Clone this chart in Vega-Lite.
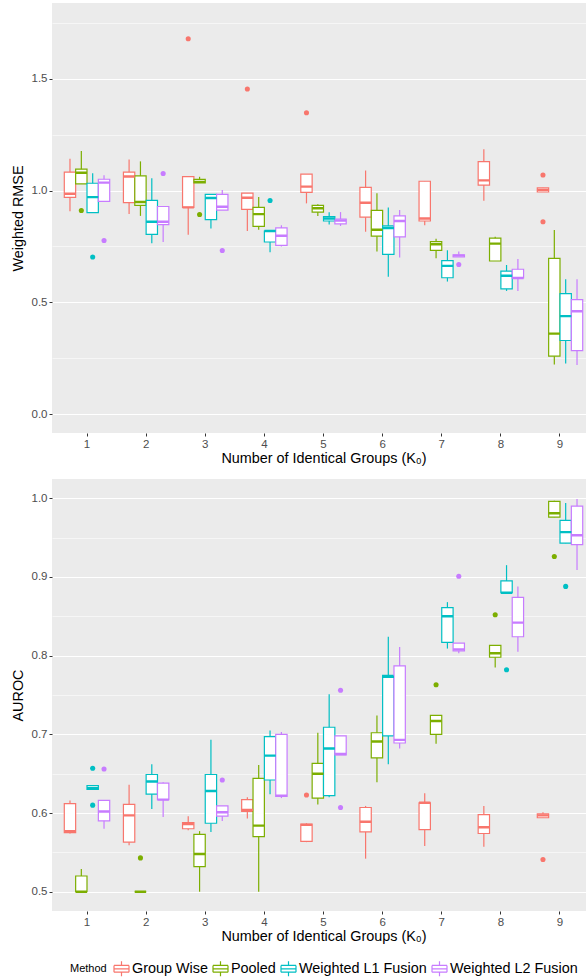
{
  "$schema": "https://vega.github.io/schema/vega-lite/v6.json",
  "background": "white",
  "padding": {"left": 10, "top": 3, "right": 0, "bottom": 0},
  "spacing": 14,
  "config": {
    "font": "Liberation Sans",
    "view": {"fill": "#EBEBEB", "stroke": null},
    "axis": {"domain": false, "gridColor": "white", "gridWidth": 1.1, "tickColor": "#333333", "tickSize": 3, "tickWidth": 1, "labelColor": "#4D4D4D", "labelFontSize": 11.5, "labelPadding": 2, "titleFontSize": 14.4, "titleFontWeight": "normal", "titleColor": "black"},
    "axisX": {"labelAngle": 0, "titlePadding": 2},
    "axisY": {"titlePadding": 6}
  },
  "datasets": {
    "rmse": [
      {"K": 1, "Method": "Group Wise", "lo": 0.908, "q1": 0.970, "med": 0.986, "q3": 1.083, "hi": 1.143},
      {"K": 1, "Method": "Pooled", "lo": 1.030, "q1": 1.030, "med": 1.080, "q3": 1.096, "hi": 1.178},
      {"K": 1, "Method": "Weighted L1 Fusion", "lo": 0.902, "q1": 0.902, "med": 0.971, "q3": 1.033, "hi": 1.078},
      {"K": 1, "Method": "Weighted L2 Fusion", "lo": 0.952, "q1": 0.952, "med": 1.036, "q3": 1.051, "hi": 1.069},
      {"K": 2, "Method": "Group Wise", "lo": 0.895, "q1": 0.946, "med": 1.063, "q3": 1.083, "hi": 1.139},
      {"K": 2, "Method": "Pooled", "lo": 0.887, "q1": 0.934, "med": 0.949, "q3": 1.066, "hi": 1.131},
      {"K": 2, "Method": "Weighted L1 Fusion", "lo": 0.765, "q1": 0.804, "med": 0.861, "q3": 0.956, "hi": 1.056},
      {"K": 2, "Method": "Weighted L2 Fusion", "lo": 0.770, "q1": 0.848, "med": 0.861, "q3": 0.929, "hi": 0.929},
      {"K": 3, "Method": "Group Wise", "lo": 0.803, "q1": 0.925, "med": 0.925, "q3": 1.063, "hi": 1.063},
      {"K": 3, "Method": "Pooled", "lo": 1.035, "q1": 1.035, "med": 1.039, "q3": 1.050, "hi": 1.062},
      {"K": 3, "Method": "Weighted L1 Fusion", "lo": 0.831, "q1": 0.870, "med": 0.967, "q3": 0.983, "hi": 0.983},
      {"K": 3, "Method": "Weighted L2 Fusion", "lo": 0.913, "q1": 0.913, "med": 0.928, "q3": 0.983, "hi": 1.003},
      {"K": 4, "Method": "Group Wise", "lo": 0.819, "q1": 0.916, "med": 0.968, "q3": 0.989, "hi": 0.989},
      {"K": 4, "Method": "Pooled", "lo": 0.825, "q1": 0.840, "med": 0.895, "q3": 0.925, "hi": 0.971},
      {"K": 4, "Method": "Weighted L1 Fusion", "lo": 0.724, "q1": 0.770, "med": 0.819, "q3": 0.819, "hi": 0.819},
      {"K": 4, "Method": "Weighted L2 Fusion", "lo": 0.750, "q1": 0.755, "med": 0.798, "q3": 0.833, "hi": 0.845},
      {"K": 5, "Method": "Group Wise", "lo": 0.943, "q1": 0.992, "med": 1.018, "q3": 1.074, "hi": 1.074},
      {"K": 5, "Method": "Pooled", "lo": 0.887, "q1": 0.904, "med": 0.921, "q3": 0.934, "hi": 0.939},
      {"K": 5, "Method": "Weighted L1 Fusion", "lo": 0.848, "q1": 0.864, "med": 0.875, "q3": 0.884, "hi": 0.903},
      {"K": 5, "Method": "Weighted L2 Fusion", "lo": 0.842, "q1": 0.851, "med": 0.866, "q3": 0.873, "hi": 0.904},
      {"K": 6, "Method": "Group Wise", "lo": 0.816, "q1": 0.881, "med": 0.946, "q3": 1.015, "hi": 1.090},
      {"K": 6, "Method": "Pooled", "lo": 0.727, "q1": 0.796, "med": 0.825, "q3": 0.912, "hi": 0.988},
      {"K": 6, "Method": "Weighted L1 Fusion", "lo": 0.615, "q1": 0.715, "med": 0.833, "q3": 0.842, "hi": 0.925},
      {"K": 6, "Method": "Weighted L2 Fusion", "lo": 0.701, "q1": 0.793, "med": 0.864, "q3": 0.887, "hi": 0.913},
      {"K": 7, "Method": "Group Wise", "lo": 0.845, "q1": 0.864, "med": 0.875, "q3": 1.042, "hi": 1.042},
      {"K": 7, "Method": "Pooled", "lo": 0.697, "q1": 0.733, "med": 0.760, "q3": 0.772, "hi": 0.785},
      {"K": 7, "Method": "Weighted L1 Fusion", "lo": 0.593, "q1": 0.610, "med": 0.663, "q3": 0.687, "hi": 0.733},
      {"K": 7, "Method": "Weighted L2 Fusion", "lo": 0.703, "q1": 0.703, "med": 0.709, "q3": 0.713, "hi": 0.727},
      {"K": 8, "Method": "Group Wise", "lo": 0.955, "q1": 1.025, "med": 1.046, "q3": 1.130, "hi": 1.185},
      {"K": 8, "Method": "Pooled", "lo": 0.685, "q1": 0.685, "med": 0.763, "q3": 0.787, "hi": 0.794},
      {"K": 8, "Method": "Weighted L1 Fusion", "lo": 0.551, "q1": 0.560, "med": 0.619, "q3": 0.640, "hi": 0.667},
      {"K": 8, "Method": "Weighted L2 Fusion", "lo": 0.551, "q1": 0.609, "med": 0.609, "q3": 0.648, "hi": 0.694},
      {"K": 9, "Method": "Group Wise", "lo": 0.994, "q1": 0.994, "med": 1.004, "q3": 1.013, "hi": 1.013},
      {"K": 9, "Method": "Pooled", "lo": 0.222, "q1": 0.259, "med": 0.360, "q3": 0.697, "hi": 0.824},
      {"K": 9, "Method": "Weighted L1 Fusion", "lo": 0.226, "q1": 0.329, "med": 0.438, "q3": 0.539, "hi": 0.603},
      {"K": 9, "Method": "Weighted L2 Fusion", "lo": 0.219, "q1": 0.284, "med": 0.460, "q3": 0.512, "hi": 0.603}
    ],
    "rmse_out": [
      {"K": 1, "Method": "Pooled", "v": 0.911},
      {"K": 1, "Method": "Weighted L1 Fusion", "v": 0.703},
      {"K": 1, "Method": "Weighted L2 Fusion", "v": 0.777},
      {"K": 2, "Method": "Weighted L2 Fusion", "v": 1.077},
      {"K": 3, "Method": "Group Wise", "v": 1.68},
      {"K": 3, "Method": "Pooled", "v": 0.893},
      {"K": 3, "Method": "Weighted L2 Fusion", "v": 0.732},
      {"K": 4, "Method": "Group Wise", "v": 1.455},
      {"K": 4, "Method": "Weighted L1 Fusion", "v": 0.956},
      {"K": 5, "Method": "Group Wise", "v": 1.349},
      {"K": 7, "Method": "Weighted L2 Fusion", "v": 0.669},
      {"K": 9, "Method": "Group Wise", "v": 1.070},
      {"K": 9, "Method": "Group Wise", "v": 0.861}
    ],
    "auroc": [
      {"K": 1, "Method": "Group Wise", "lo": 0.574, "q1": 0.575, "med": 0.577, "q3": 0.612, "hi": 0.616},
      {"K": 1, "Method": "Pooled", "lo": 0.500, "q1": 0.500, "med": 0.500, "q3": 0.520, "hi": 0.529},
      {"K": 1, "Method": "Weighted L1 Fusion", "lo": 0.630, "q1": 0.630, "med": 0.632, "q3": 0.635, "hi": 0.635},
      {"K": 1, "Method": "Weighted L2 Fusion", "lo": 0.580, "q1": 0.590, "med": 0.602, "q3": 0.616, "hi": 0.616},
      {"K": 2, "Method": "Group Wise", "lo": 0.559, "q1": 0.563, "med": 0.597, "q3": 0.611, "hi": 0.636},
      {"K": 2, "Method": "Pooled", "lo": 0.500, "q1": 0.500, "med": 0.500, "q3": 0.500, "hi": 0.500},
      {"K": 2, "Method": "Weighted L1 Fusion", "lo": 0.605, "q1": 0.624, "med": 0.640, "q3": 0.649, "hi": 0.662},
      {"K": 2, "Method": "Weighted L2 Fusion", "lo": 0.595, "q1": 0.617, "med": 0.617, "q3": 0.638, "hi": 0.639},
      {"K": 3, "Method": "Group Wise", "lo": 0.578, "q1": 0.580, "med": 0.586, "q3": 0.588, "hi": 0.596},
      {"K": 3, "Method": "Pooled", "lo": 0.500, "q1": 0.532, "med": 0.548, "q3": 0.573, "hi": 0.577},
      {"K": 3, "Method": "Weighted L1 Fusion", "lo": 0.576, "q1": 0.587, "med": 0.628, "q3": 0.649, "hi": 0.693},
      {"K": 3, "Method": "Weighted L2 Fusion", "lo": 0.590, "q1": 0.596, "med": 0.601, "q3": 0.609, "hi": 0.609},
      {"K": 4, "Method": "Group Wise", "lo": 0.593, "q1": 0.602, "med": 0.604, "q3": 0.617, "hi": 0.620},
      {"K": 4, "Method": "Pooled", "lo": 0.500, "q1": 0.570, "med": 0.584, "q3": 0.644, "hi": 0.661},
      {"K": 4, "Method": "Weighted L1 Fusion", "lo": 0.624, "q1": 0.642, "med": 0.673, "q3": 0.697, "hi": 0.705},
      {"K": 4, "Method": "Weighted L2 Fusion", "lo": 0.619, "q1": 0.621, "med": 0.622, "q3": 0.700, "hi": 0.703},
      {"K": 5, "Method": "Group Wise", "lo": 0.563, "q1": 0.564, "med": 0.585, "q3": 0.586, "hi": 0.587},
      {"K": 5, "Method": "Pooled", "lo": 0.611, "q1": 0.619, "med": 0.650, "q3": 0.663, "hi": 0.702},
      {"K": 5, "Method": "Weighted L1 Fusion", "lo": 0.620, "q1": 0.622, "med": 0.682, "q3": 0.709, "hi": 0.751},
      {"K": 5, "Method": "Weighted L2 Fusion", "lo": 0.674, "q1": 0.674, "med": 0.675, "q3": 0.698, "hi": 0.698},
      {"K": 6, "Method": "Group Wise", "lo": 0.542, "q1": 0.576, "med": 0.589, "q3": 0.607, "hi": 0.609},
      {"K": 6, "Method": "Pooled", "lo": 0.639, "q1": 0.670, "med": 0.691, "q3": 0.702, "hi": 0.724},
      {"K": 6, "Method": "Weighted L1 Fusion", "lo": 0.662, "q1": 0.698, "med": 0.773, "q3": 0.775, "hi": 0.824},
      {"K": 6, "Method": "Weighted L2 Fusion", "lo": 0.682, "q1": 0.689, "med": 0.693, "q3": 0.787, "hi": 0.811},
      {"K": 7, "Method": "Group Wise", "lo": 0.558, "q1": 0.579, "med": 0.613, "q3": 0.613, "hi": 0.625},
      {"K": 7, "Method": "Pooled", "lo": 0.688, "q1": 0.700, "med": 0.717, "q3": 0.724, "hi": 0.724},
      {"K": 7, "Method": "Weighted L1 Fusion", "lo": 0.809, "q1": 0.817, "med": 0.850, "q3": 0.861, "hi": 0.868},
      {"K": 7, "Method": "Weighted L2 Fusion", "lo": 0.803, "q1": 0.806, "med": 0.808, "q3": 0.816, "hi": 0.816},
      {"K": 8, "Method": "Group Wise", "lo": 0.557, "q1": 0.574, "med": 0.582, "q3": 0.598, "hi": 0.609},
      {"K": 8, "Method": "Pooled", "lo": 0.785, "q1": 0.798, "med": 0.803, "q3": 0.813, "hi": 0.813},
      {"K": 8, "Method": "Weighted L1 Fusion", "lo": 0.880, "q1": 0.880, "med": 0.880, "q3": 0.895, "hi": 0.915},
      {"K": 8, "Method": "Weighted L2 Fusion", "lo": 0.805, "q1": 0.824, "med": 0.842, "q3": 0.874, "hi": 0.888},
      {"K": 9, "Method": "Group Wise", "lo": 0.594, "q1": 0.594, "med": 0.597, "q3": 0.599, "hi": 0.601},
      {"K": 9, "Method": "Pooled", "lo": 0.976, "q1": 0.976, "med": 0.981, "q3": 0.996, "hi": 0.997},
      {"K": 9, "Method": "Weighted L1 Fusion", "lo": 0.943, "q1": 0.943, "med": 0.957, "q3": 0.972, "hi": 0.994},
      {"K": 9, "Method": "Weighted L2 Fusion", "lo": 0.909, "q1": 0.941, "med": 0.953, "q3": 0.990, "hi": 0.999}
    ],
    "auroc_out": [
      {"K": 1, "Method": "Weighted L1 Fusion", "v": 0.657},
      {"K": 1, "Method": "Weighted L1 Fusion", "v": 0.610},
      {"K": 1, "Method": "Weighted L2 Fusion", "v": 0.656},
      {"K": 2, "Method": "Pooled", "v": 0.543},
      {"K": 3, "Method": "Weighted L2 Fusion", "v": 0.642},
      {"K": 5, "Method": "Group Wise", "v": 0.623},
      {"K": 5, "Method": "Weighted L2 Fusion", "v": 0.756},
      {"K": 5, "Method": "Weighted L2 Fusion", "v": 0.607},
      {"K": 7, "Method": "Pooled", "v": 0.763},
      {"K": 7, "Method": "Weighted L2 Fusion", "v": 0.901},
      {"K": 8, "Method": "Pooled", "v": 0.852},
      {"K": 8, "Method": "Weighted L1 Fusion", "v": 0.782},
      {"K": 9, "Method": "Group Wise", "v": 0.541},
      {"K": 9, "Method": "Pooled", "v": 0.926},
      {"K": 9, "Method": "Weighted L1 Fusion", "v": 0.888}
    ]
  },
  "vconcat": [
    {
      "width": 543,
      "height": 430,
      "layer": [
        {
          "data": {"name": "rmse"},
          "mark": {"type": "rule", "strokeWidth": 1.2},
          "encoding": {
            "x": {"field": "K", "type": "ordinal", "scale": {"paddingInner": 0.232, "paddingOuter": 0.208}, "axis": {"title": "Number of Identical Groups (K₀)"}},
            "xOffset": {"field": "Method", "type": "nominal", "scale": {"paddingInner": 0, "paddingOuter": 0}},
            "y": {"field": "lo", "type": "quantitative", "scale": {"domain": [-0.085, 1.84], "nice": false, "zero": false},
              "axis": {"title": "Weighted RMSE", "values": [0, 0.25, 0.5, 0.75, 1, 1.25, 1.5, 1.75],
                "labelExpr": "round(datum.value*4) % 2 === 0 ? format(datum.value, '.1f') : ''",
                "gridWidth": {"condition": {"test": "round(datum.value*4) % 2 === 0", "value": 1.1}, "value": 0.55},
                "tickColor": {"condition": {"test": "round(datum.value*4) % 2 === 0", "value": "#333333"}, "value": "transparent"}}},
            "y2": {"field": "hi"},
            "stroke": {"field": "Method", "type": "nominal", "scale": {"domain": ["Group Wise", "Pooled", "Weighted L1 Fusion", "Weighted L2 Fusion"], "range": ["#F8766D", "#7CAE00", "#00BFC4", "#C77CFF"]}}
          }
        },
        {
          "data": {"name": "rmse"},
          "mark": {"type": "bar", "fill": "white", "strokeWidth": 1.2},
          "encoding": {
            "x": {"field": "K", "type": "ordinal"},
            "xOffset": {"field": "Method", "type": "nominal"},
            "y": {"field": "q1", "type": "quantitative"},
            "y2": {"field": "q3"},
            "stroke": {"field": "Method", "type": "nominal"}
          }
        },
        {
          "data": {"name": "rmse"},
          "mark": {"type": "bar", "fill": "white", "strokeWidth": 2.4},
          "encoding": {
            "x": {"field": "K", "type": "ordinal"},
            "xOffset": {"field": "Method", "type": "nominal"},
            "y": {"field": "med", "type": "quantitative"},
            "y2": {"field": "med"},
            "stroke": {"field": "Method", "type": "nominal"}
          }
        },
        {
          "data": {"name": "rmse_out"},
          "mark": {"type": "circle", "size": 26, "opacity": 1},
          "encoding": {
            "x": {"field": "K", "type": "ordinal"},
            "xOffset": {"field": "Method", "type": "nominal"},
            "y": {"field": "v", "type": "quantitative"},
            "color": {"field": "Method", "type": "nominal", "scale": {"domain": ["Group Wise", "Pooled", "Weighted L1 Fusion", "Weighted L2 Fusion"], "range": ["#F8766D", "#7CAE00", "#00BFC4", "#C77CFF"]}, "legend": null}
          }
        }
      ]
    },
    {
      "width": 543,
      "height": 432,
      "layer": [
        {
          "data": {"name": "auroc"},
          "mark": {"type": "rule", "strokeWidth": 1.2},
          "encoding": {
            "x": {"field": "K", "type": "ordinal", "scale": {"paddingInner": 0.232, "paddingOuter": 0.208}, "axis": {"title": "Number of Identical Groups (K₀)"}},
            "xOffset": {"field": "Method", "type": "nominal", "scale": {"paddingInner": 0, "paddingOuter": 0}},
            "y": {"field": "lo", "type": "quantitative", "scale": {"domain": [0.4755, 1.0245], "nice": false, "zero": false},
              "axis": {"title": "AUROC", "values": [0.5, 0.55, 0.6, 0.65, 0.7, 0.75, 0.8, 0.85, 0.9, 0.95, 1.0],
                "labelExpr": "round(datum.value*20) % 2 === 0 ? format(datum.value, '.1f') : ''",
                "gridWidth": {"condition": {"test": "round(datum.value*20) % 2 === 0", "value": 1.1}, "value": 0.55},
                "tickColor": {"condition": {"test": "round(datum.value*20) % 2 === 0", "value": "#333333"}, "value": "transparent"}}},
            "y2": {"field": "hi"},
            "stroke": {"field": "Method", "type": "nominal", "scale": {"domain": ["Group Wise", "Pooled", "Weighted L1 Fusion", "Weighted L2 Fusion"], "range": ["#F8766D", "#7CAE00", "#00BFC4", "#C77CFF"]},
              "legend": {"orient": "none", "legendX": 18, "legendY": 957, "direction": "horizontal", "title": "Method", "titleOrient": "left", "titleFontSize": 11, "titleFontWeight": "normal", "titleColor": "black", "titlePadding": 6, "labelFontSize": 14.4, "labelColor": "black", "labelOffset": 2, "columnPadding": 2, "symbolType": "M-1,-0.45H1 M1,-0.45V0.45 M1,0.45H-1 M-1,0.45V-0.45 M-1,0H1 M0,-0.45V-1 M0,0.45V1", "symbolSize": 225, "symbolStrokeWidth": 1.2, "symbolFillColor": "white"}}
          }
        },
        {
          "data": {"name": "auroc"},
          "mark": {"type": "bar", "fill": "white", "strokeWidth": 1.2},
          "encoding": {
            "x": {"field": "K", "type": "ordinal"},
            "xOffset": {"field": "Method", "type": "nominal"},
            "y": {"field": "q1", "type": "quantitative"},
            "y2": {"field": "q3"},
            "stroke": {"field": "Method", "type": "nominal"}
          }
        },
        {
          "data": {"name": "auroc"},
          "mark": {"type": "bar", "fill": "white", "strokeWidth": 2.4},
          "encoding": {
            "x": {"field": "K", "type": "ordinal"},
            "xOffset": {"field": "Method", "type": "nominal"},
            "y": {"field": "med", "type": "quantitative"},
            "y2": {"field": "med"},
            "stroke": {"field": "Method", "type": "nominal"}
          }
        },
        {
          "data": {"name": "auroc_out"},
          "mark": {"type": "circle", "size": 26, "opacity": 1},
          "encoding": {
            "x": {"field": "K", "type": "ordinal"},
            "xOffset": {"field": "Method", "type": "nominal"},
            "y": {"field": "v", "type": "quantitative"},
            "color": {"field": "Method", "type": "nominal", "scale": {"domain": ["Group Wise", "Pooled", "Weighted L1 Fusion", "Weighted L2 Fusion"], "range": ["#F8766D", "#7CAE00", "#00BFC4", "#C77CFF"]}, "legend": null}
          }
        }
      ]
    }
  ]
}
